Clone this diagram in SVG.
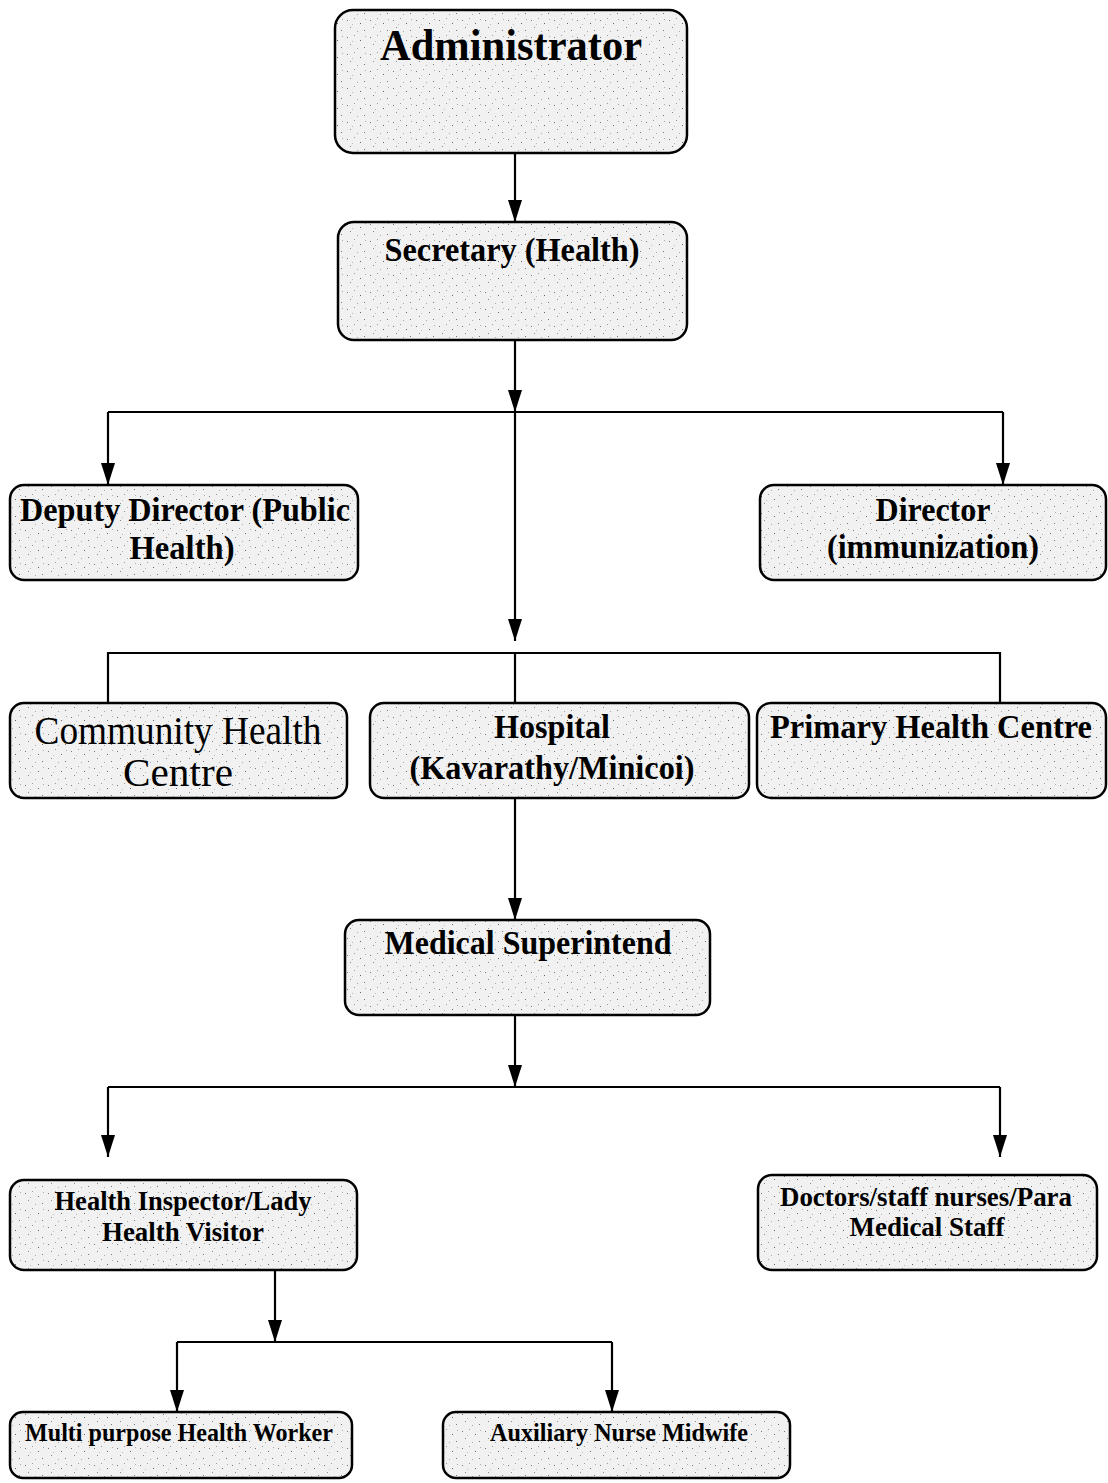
<svg xmlns="http://www.w3.org/2000/svg" width="1108" height="1483" viewBox="0 0 1108 1483">
<defs>
<pattern id="speck" width="23" height="17" patternUnits="userSpaceOnUse">
<rect width="23" height="17" fill="#f1f1f1"/>
<rect x="2" y="3" width="1" height="1" fill="#777"/>
<rect x="9" y="1" width="1" height="1" fill="#999"/>
<rect x="15" y="6" width="1" height="1" fill="#666"/>
<rect x="5" y="10" width="1" height="1" fill="#888"/>
<rect x="19" y="13" width="1" height="1" fill="#777"/>
<rect x="12" y="14" width="1" height="1" fill="#aaa"/>
<rect x="20" y="2" width="1" height="1" fill="#aaa"/>
<rect x="7" y="7" width="1" height="1" fill="#bbb"/>
</pattern>
<marker id="arrd" markerUnits="userSpaceOnUse" markerWidth="24" markerHeight="16" refX="22" refY="8" orient="auto" viewBox="0 0 24 16">
<path d="M0,1 L22,8 L0,15 Z" fill="#000"/>
</marker>
</defs>
<style>
.box{fill:url(#speck);stroke:#000;stroke-width:2.5}
.t{font-family:"Liberation Serif","Times New Roman",serif;font-weight:bold;fill:#000;text-anchor:middle}
.n{font-family:"Liberation Serif","Times New Roman",serif;font-weight:normal;fill:#000;text-anchor:middle}
.c{fill:none;stroke:#000;stroke-width:2.2}
</style>
<rect width="1108" height="1483" fill="#fff"/>
<g id="connectors">
<path class="c" d="M515,153 V222" marker-end="url(#arrd)"/>
<path class="c" d="M515,340 V412" marker-end="url(#arrd)"/>
<path class="c" d="M108,412 H1003"/>
<path class="c" d="M108,412 V485" marker-end="url(#arrd)"/>
<path class="c" d="M1003,412 V485" marker-end="url(#arrd)"/>
<path class="c" d="M515,412 V641" marker-end="url(#arrd)"/>
<path class="c" d="M108,703 V653 H1000 V703"/>
<path class="c" d="M515,653 V703"/>
<path class="c" d="M515,798 V920" marker-end="url(#arrd)"/>
<path class="c" d="M515,1015 V1087" marker-end="url(#arrd)"/>
<path class="c" d="M108,1087 H1000"/>
<path class="c" d="M108,1087 V1157" marker-end="url(#arrd)"/>
<path class="c" d="M1000,1087 V1157" marker-end="url(#arrd)"/>
<path class="c" d="M275,1270 V1342" marker-end="url(#arrd)"/>
<path class="c" d="M177,1342 H612"/>
<path class="c" d="M177,1342 V1412" marker-end="url(#arrd)"/>
<path class="c" d="M612,1342 V1412" marker-end="url(#arrd)"/>
</g>
<g id="administrator">
<rect class="box" x="335" y="10" width="352" height="143" rx="18"/>
<text class="t" x="511" y="60" font-size="45" textLength="262" lengthAdjust="spacingAndGlyphs">Administrator</text>
</g>
<g id="secretary">
<rect class="box" x="338" y="222" width="349" height="118" rx="16"/>
<text class="t" x="512" y="261" font-size="34" textLength="255" lengthAdjust="spacingAndGlyphs">Secretary (Health)</text>
</g>
<g id="deputy-director">
<rect class="box" x="10" y="485" width="348" height="95" rx="14"/>
<text class="t" x="185" y="521" font-size="33" textLength="330" lengthAdjust="spacingAndGlyphs">Deputy Director (Public</text>
<text class="t" x="182" y="559" font-size="33" textLength="105" lengthAdjust="spacingAndGlyphs">Health)</text>
</g>
<g id="director">
<rect class="box" x="760" y="485" width="346" height="95" rx="14"/>
<text class="t" x="933" y="521" font-size="33" textLength="115" lengthAdjust="spacingAndGlyphs">Director</text>
<text class="t" x="933" y="558" font-size="33" textLength="212" lengthAdjust="spacingAndGlyphs">(immunization)</text>
</g>
<g id="community-health-centre">
<rect class="box" x="10" y="703" width="337" height="95" rx="14"/>
<text class="n" x="178" y="744" font-size="40" textLength="287" lengthAdjust="spacingAndGlyphs">Community Health</text>
<text class="n" x="178" y="786" font-size="40" textLength="110" lengthAdjust="spacingAndGlyphs">Centre</text>
</g>
<g id="hospital">
<rect class="box" x="370" y="703" width="379" height="95" rx="14"/>
<text class="t" x="552" y="738" font-size="34" textLength="116" lengthAdjust="spacingAndGlyphs">Hospital</text>
<text class="t" x="552" y="779" font-size="34" textLength="285" lengthAdjust="spacingAndGlyphs">(Kavarathy/Minicoi)</text>
</g>
<g id="primary-health-centre">
<rect class="box" x="757" y="703" width="349" height="95" rx="14"/>
<text class="t" x="931" y="738" font-size="34" textLength="322" lengthAdjust="spacingAndGlyphs">Primary Health Centre</text>
</g>
<g id="medical-superintend">
<rect class="box" x="345" y="920" width="365" height="95" rx="14"/>
<text class="t" x="528" y="954" font-size="33" textLength="287" lengthAdjust="spacingAndGlyphs">Medical Superintend</text>
</g>
<g id="health-inspector">
<rect class="box" x="10" y="1180" width="347" height="90" rx="14"/>
<text class="t" x="183" y="1210" font-size="27" textLength="257" lengthAdjust="spacingAndGlyphs">Health Inspector/Lady</text>
<text class="t" x="183" y="1241" font-size="27" textLength="162" lengthAdjust="spacingAndGlyphs">Health Visitor</text>
</g>
<g id="doctors-staff">
<rect class="box" x="758" y="1175" width="339" height="95" rx="14"/>
<text class="t" x="926" y="1206" font-size="27" textLength="292" lengthAdjust="spacingAndGlyphs">Doctors/staff nurses/Para</text>
<text class="t" x="927" y="1236" font-size="27" textLength="155" lengthAdjust="spacingAndGlyphs">Medical Staff</text>
</g>
<g id="multi-purpose-health-worker">
<rect class="box" x="10" y="1412" width="342" height="66" rx="13"/>
<text class="t" x="179" y="1441" font-size="25" textLength="308" lengthAdjust="spacingAndGlyphs">Multi purpose Health Worker</text>
</g>
<g id="auxiliary-nurse-midwife">
<rect class="box" x="443" y="1412" width="347" height="66" rx="13"/>
<text class="t" x="619" y="1441" font-size="25" textLength="258" lengthAdjust="spacingAndGlyphs">Auxiliary Nurse Midwife</text>
</g>
</svg>
